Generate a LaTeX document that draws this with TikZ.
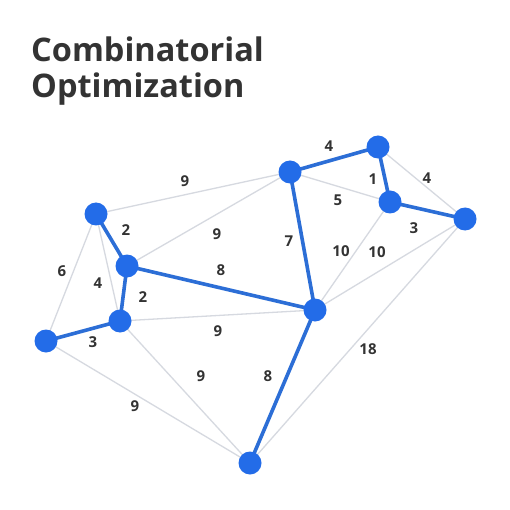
\documentclass[tikz,border=0pt]{standalone}
\usepackage{fontspec}
\setmainfont{Open Sans}
\definecolor{nodeblue}{RGB}{35,108,232}
\definecolor{edgeblue}{RGB}{44,110,214}
\definecolor{edgegray}{RGB}{214,217,224}
\definecolor{textdark}{RGB}{51,51,51}
\begin{document}
\begin{tikzpicture}[x=1pt,y=-1pt,
  vert/.style={circle,fill=nodeblue,inner sep=0pt,minimum size=23pt},
  light/.style={draw=edgegray,line width=1.3pt},
  heavy/.style={draw=edgeblue,line width=3.6pt},
  wlabel/.style={font=\bfseries\fontsize{15}{17}\selectfont,text=textdark,inner sep=0pt},
  titletext/.style={font=\bfseries\fontsize{32.5}{36}\selectfont,text=textdark,inner sep=0pt,anchor=base west}]
\useasboundingbox[fill=white] (0,0) rectangle (510,510);
\node[titletext] (t1) at (31,62) {Combinatorial};
\node[titletext] (t2) at (31,98) {Optimization};
% vertex coordinates
\coordinate (A) at (96,214);
\coordinate (B) at (127,266);
\coordinate (C) at (120,321);
\coordinate (D) at (46,341);
\coordinate (E) at (290,172);
\coordinate (F) at (378,147);
\coordinate (G) at (390,202);
\coordinate (H) at (465,219);
\coordinate (I) at (315,310);
\coordinate (J) at (250,463);
% light edges
\draw[light] (A) -- (E);
\draw[light] (B) -- (E);
\draw[light] (A) -- (D);
\draw[light] (A) -- (C);
\draw[light] (C) -- (I);
\draw[light] (C) -- (J);
\draw[light] (D) -- (J);
\draw[light] (E) -- (G);
\draw[light] (G) -- (I);
\draw[light] (H) -- (I);
\draw[light] (F) -- (H);
\draw[light] (H) -- (J);
% heavy edges
\draw[heavy] (A) -- (B);
\draw[heavy] (B) -- (C);
\draw[heavy] (C) -- (D);
\draw[heavy] (B) -- (I);
\draw[heavy] (E) -- (I);
\draw[heavy] (E) -- (F);
\draw[heavy] (F) -- (G);
\draw[heavy] (G) -- (H);
\draw[heavy] (I) -- (J);
% vertices
\foreach \v in {A,B,C,D,E,F,G,H,I,J} \node[vert] (n\v) at (\v) {};
% weights
\node[wlabel] (w1) at (185,181) {9};
\node[wlabel] (w2) at (217,234) {9};
\node[wlabel] (w3) at (126,230) {2};
\node[wlabel] (w4) at (221,270) {8};
\node[wlabel] (w5) at (289,241) {7};
\node[wlabel] (w6) at (329,146) {4};
\node[wlabel] (w7) at (373,179) {1};
\node[wlabel] (w8) at (338,200) {5};
\node[wlabel] (w9) at (427,178) {4};
\node[wlabel] (w10) at (414,228) {3};
\node[wlabel] (w11) at (341,251) {10};
\node[wlabel] (w12) at (377,252) {10};
\node[wlabel] (w13) at (62,271) {6};
\node[wlabel] (w14) at (98,283) {4};
\node[wlabel] (w15) at (143,297) {2};
\node[wlabel] (w16) at (218,331) {9};
\node[wlabel] (w17) at (93,342) {3};
\node[wlabel] (w18) at (201,376) {9};
\node[wlabel] (w19) at (268,376) {8};
\node[wlabel] (w20) at (135,406) {9};
\node[wlabel] (w21) at (368,349) {18};
\end{tikzpicture}
\end{document}
